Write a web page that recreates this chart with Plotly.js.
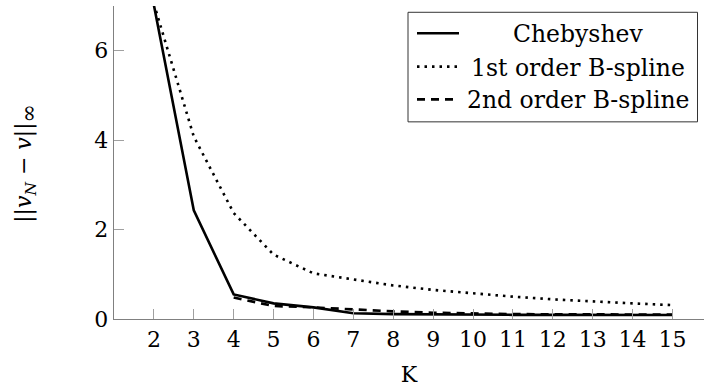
<!DOCTYPE html>
<html>
<head>
<meta charset="utf-8">
<script src="https://cdn.plot.ly/plotly-3.0.1.min.js"></script>
<style>
  html, body { margin: 0; padding: 0; background: #fff; overflow: hidden; }
  #chart { width: 704px; height: 389px; }
</style>
</head>
<body>
<div id="chart"></div>
<script>
// ---- data ----
const kCheb = [2, 3, 4, 5, 6, 7, 8, 9, 10, 11, 12, 13, 14, 15];
const errCheb = [7.02, 2.43, 0.55, 0.35, 0.26, 0.13, 0.11, 0.10, 0.095, 0.093, 0.092, 0.091, 0.09, 0.09];

const kB1 = [2, 3, 4, 5, 6, 7, 8, 9, 10, 11, 12, 13, 14, 15];
const errB1 = [7.05, 4.08, 2.37, 1.44, 1.02, 0.88, 0.75, 0.65, 0.57, 0.5, 0.44, 0.39, 0.35, 0.31];

const kB2 = [4, 5, 6, 7, 8, 9, 10, 11, 12, 13, 14, 15];
const errB2 = [0.48, 0.29, 0.26, 0.21, 0.17, 0.14, 0.12, 0.11, 0.105, 0.10, 0.10, 0.10];

const seriesNames = ["Chebyshev", "1st order B-spline", "2nd order B-spline"];
const xTicks = [2, 3, 4, 5, 6, 7, 8, 9, 10, 11, 12, 13, 14, 15];
const yTicks = [0, 2, 4, 6];

// ---- styling ----
const FONT = "DejaVu Serif";
const dashes = ["solid", "2.5px,5px", "8px,6px"];
const widths = [2.6, 2.6, 2.6];

const traces = [
  {x: kCheb, y: errCheb, name: seriesNames[0]},
  {x: kB1, y: errB1, name: seriesNames[1]},
  {x: kB2, y: errB2, name: seriesNames[2]}
].map((t, i) => Object.assign(t, {
  type: "scatter", mode: "lines", showlegend: false,
  line: {color: "#000", width: widths[i], dash: dashes[i]}
}));

// plot area geometry (pixels) used for the hand-built legend box
const W = 704, H = 389, ML = 114, MR = 0, MT = 6, MB = 69.6;
const pw = W - ML - MR, ph = H - MT - MB;
const px = v => (v - ML) / pw;          // pixel x -> paper x
const py = v => (H - MB - v) / ph;      // pixel y -> paper y

const legRows = [33.3, 66.7, 99.5];
const shapes = [{
  type: "rect", xref: "paper", yref: "paper",
  x0: px(408), x1: px(697.5), y0: py(122), y1: py(12.3),
  line: {color: "#333", width: 1}, fillcolor: "rgba(255,255,255,1)", layer: "above"
}];
const annotations = [];
legRows.forEach((ry, i) => {
  shapes.push({
    type: "line", xref: "paper", yref: "paper",
    x0: px(417), x1: px(459), y0: py(ry), y1: py(ry),
    line: {color: "#000", width: widths[i], dash: dashes[i]}, layer: "above"
  });
  annotations.push({
    xref: "paper", yref: "paper", x: px(578), y: py(ry + 1),
    xanchor: "center", yanchor: "middle", showarrow: false,
    text: seriesNames[i], font: {family: FONT, size: 23.5, color: "#000"}
  });
});
// y-axis title placed as rotated text at the reference position
annotations.push({
  xref: "paper", yref: "paper", x: px(26), y: py(164),
  xanchor: "center", yanchor: "middle", showarrow: false, textangle: -90,
  text: "||<i>v</i><sub><i>N</i></sub> − <i>v</i>||<sub><span style=\"font-size:22px\">∞</span></sub>",
  font: {family: FONT, size: 22, color: "#000"}
});

const axisCommon = {
  showgrid: false, zeroline: false, showline: true,
  linecolor: "#808080", linewidth: 1.3,
  ticks: "inside", ticklen: 10, tickwidth: 1, tickcolor: "#a0a0a0",
  tickfont: {family: FONT, size: 22, color: "#000"}
};

const layout = {
  width: W, height: H,
  margin: {l: ML, r: MR, t: MT, b: MB},
  paper_bgcolor: "#fff", plot_bgcolor: "#fff",
  font: {family: FONT, color: "#000"},
  xaxis: Object.assign({}, axisCommon, {
    range: [1, 15.79], tickmode: "array", tickvals: xTicks,
    ticktext: xTicks.map(String),
    title: {text: "K", font: {family: FONT, size: 22}, standoff: 16}
  }),
  yaxis: Object.assign({}, axisCommon, {
    range: [0, 7], tickmode: "array", tickvals: yTicks,
    ticktext: yTicks.map(String)
  }),
  shapes: shapes,
  annotations: annotations
};

Plotly.newPlot("chart", traces, layout, {staticPlot: true, displayModeBar: false});
</script>
</body>
</html>
